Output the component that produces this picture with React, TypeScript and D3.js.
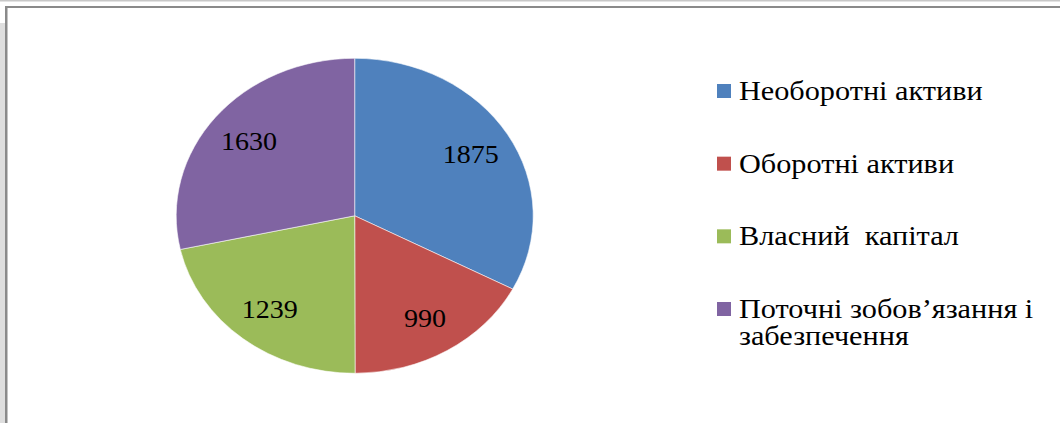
import React from 'react';
import * as d3 from 'd3';

const categories = ['Необоротні активи', 'Оборотні активи', 'Власний  капітал', 'Поточні зобов’язання і забезпечення'];
const values = [1875, 990, 1239, 1630];
const colors = ['#4F81BD', '#C0504D', '#9BBB59', '#8064A2'];
const legendLines = [['Необоротні активи'], ['Оборотні активи'], ['Власний\u00A0 капітал'], ['Поточні зобов’язання і', 'забезпечення']];

const width = 1060;
const height = 423;
const font = "'Liberation Serif', Tinos, 'Times New Roman', serif";
// the source picture is stretched sideways a little
const stretch = 1.1;

export default function App() {
  const cx = 354.7;
  const cy = 215.8;
  const rx = 178.5;
  const ry = 157.5;

  const pie = d3.pie<number>().sort(null).value(d => d);
  const arcs = pie(values);
  const arc = d3.arc<d3.PieArcDatum<number>>().innerRadius(0).outerRadius(rx);
  const labelArc = d3.arc<d3.PieArcDatum<number>>().innerRadius(rx * 0.76).outerRadius(rx * 0.76);

  const legendY = d3.scalePoint<number>().domain(d3.range(categories.length)).range([100, 318]);

  return (
    <svg width={width} height={height} style={{ position: 'absolute', left: 0, top: 0, background: '#fff' }}>
      {/* frame */}
      <rect x={0} y={0} width={width} height={1.5} fill="#c8c8c8" />
      <rect x={0} y={23} width={5} height={height - 23} fill="#dedede" />
      <rect x={5} y={6} width={width - 5} height={2} fill="#8a8a8a" />
      <rect x={5} y={6} width={2.5} height={height - 6} fill="#8a8a8a" />

      <g transform={`translate(${cx},${cy}) scale(1,${ry / rx})`}>
        {arcs.map((a, i) => (
          <path key={i} d={arc(a) || ''} fill={colors[i]} stroke="#fff" strokeWidth={0.6} />
        ))}
      </g>
      {arcs.map((a, i) => {
        const [lx, ly] = labelArc.centroid(a);
        return (
          <text key={i} transform={`translate(${cx + lx},${cy + ly * (ry / rx)}) scale(${stretch},1)`}
            dy="0.35em" textAnchor="middle" style={{ fontFamily: font, fontSize: 25.5 }} fill="#000">
            {a.data}
          </text>
        );
      })}

      {categories.map((c, i) => {
        const y = legendY(i) as number;
        return (
          <g key={c}>
            <rect x={717} y={y - 16} width={14} height={14} fill={colors[i]} />
            <text transform={`translate(739,${y}) scale(${stretch},1)`} style={{ fontFamily: font, fontSize: 27.5 }} fill="#000">
              {legendLines[i].map((t, j) => (
                <tspan key={j} x={0} y={j * 27}>{t}</tspan>
              ))}
            </text>
          </g>
        );
      })}
    </svg>
  );
}
